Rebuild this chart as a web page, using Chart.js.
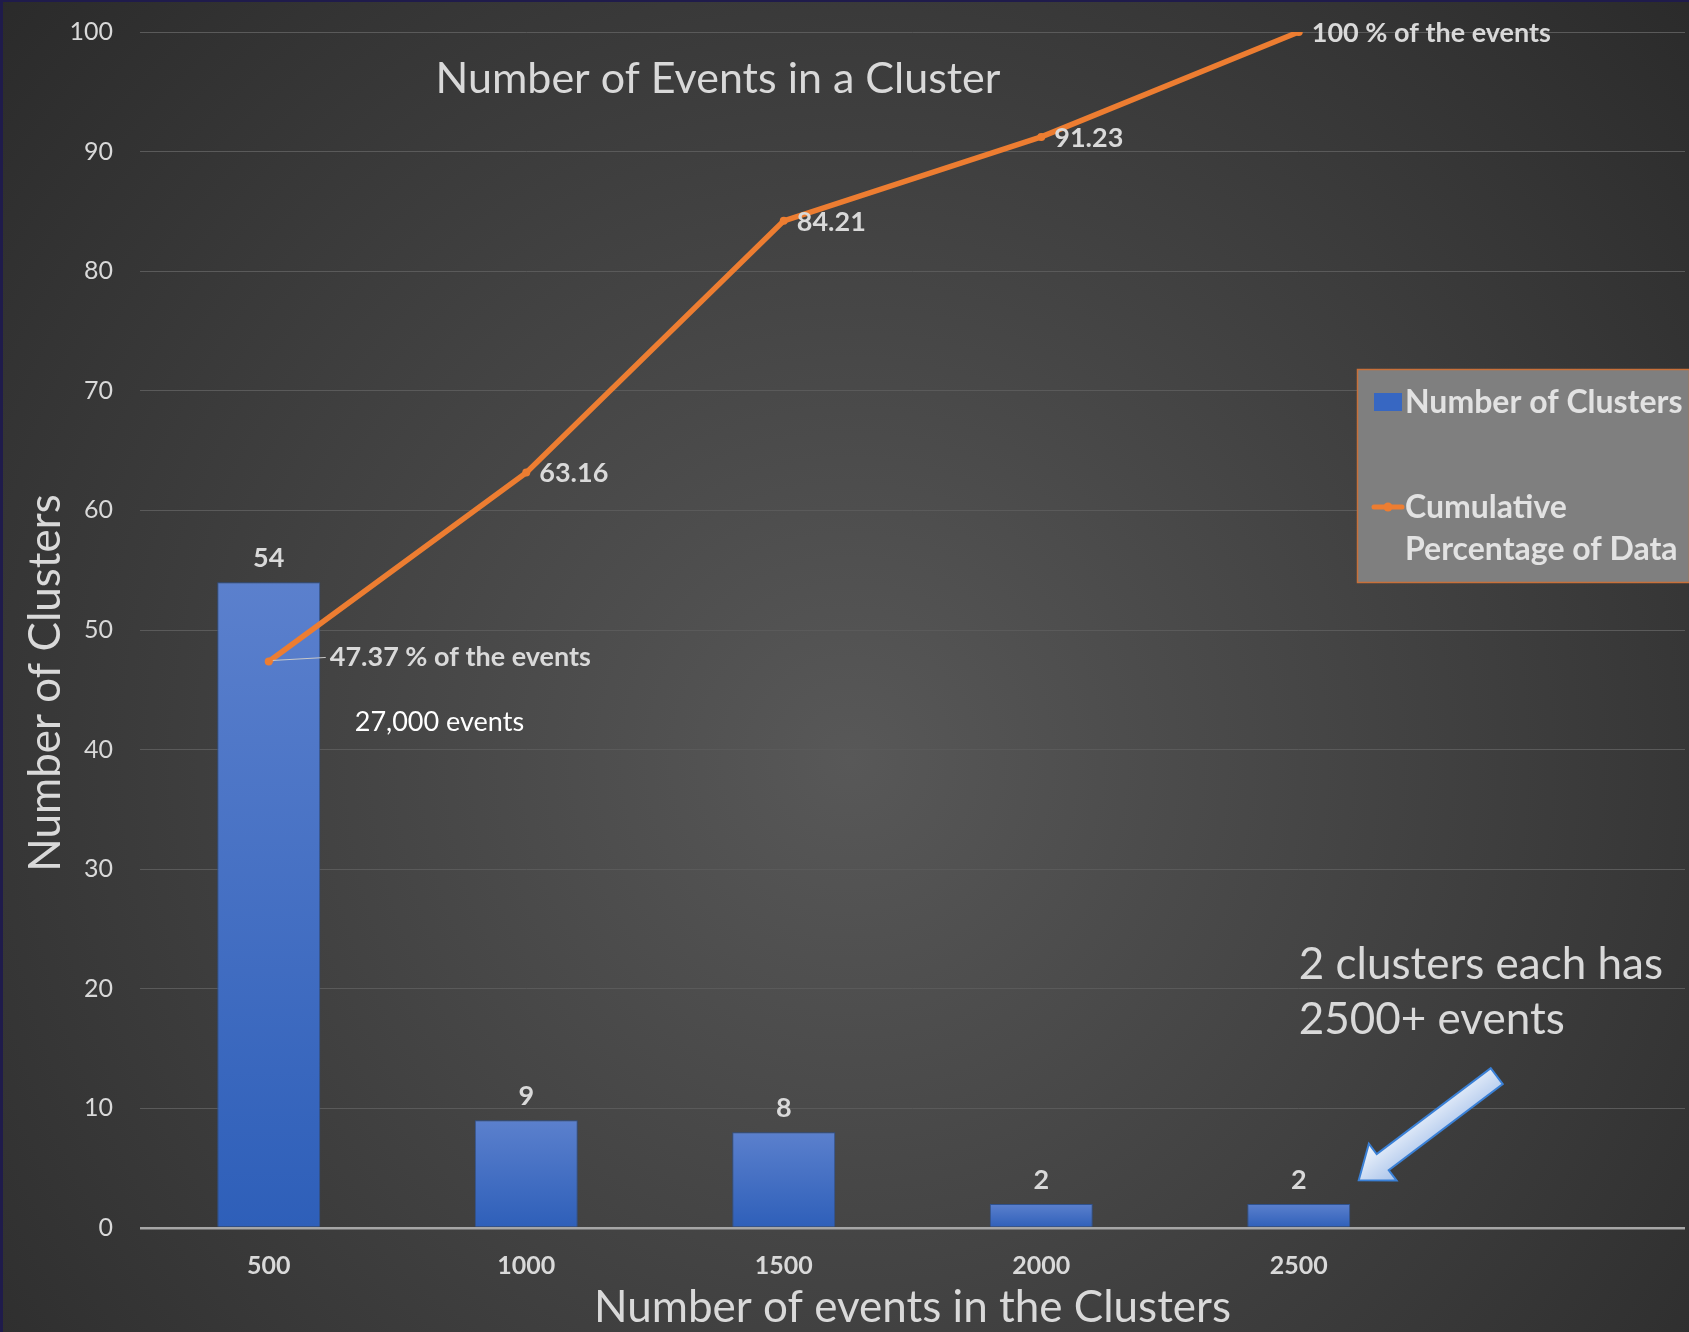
<!DOCTYPE html>
<html>
<head>
<meta charset="utf-8">
<script src="https://cdn.jsdelivr.net/npm/chart.js@4.4.0/dist/chart.umd.min.js"></script>
<style>
  html, body { margin: 0; padding: 0; background: #3a3a3a; }
  #wrap { width: 1689px; height: 1332px; }
</style>
</head>
<body>
<div id="wrap"><canvas id="myChart" width="1689" height="1332"></canvas></div>
<script>
// data
var categories = ['500', '1000', '1500', '2000', '2500', ''];
var clusterCounts = [54, 9, 8, 2, 2, null];
var cumulativePct = [47.37, 63.16, 84.21, 91.23, 100, null];
var pointLabels = ['47.37 % of the events', '63.16', '84.21', '91.23', '100 % of the events'];

var FONT = 'Lato, "Open Sans", sans-serif';
var TEXT = '#d9d9d9';

//Hintergrund
var backgroundPlugin = {
  id: 'bg',
  beforeDraw: function(chart) {
    var ctx = chart.ctx;
    var w = chart.width, h = chart.height;
    var g = ctx.createRadialGradient(850, 760, 0, 850, 760, 1150);
    g.addColorStop(0, '#585858');
    g.addColorStop(1, '#2a2a2a');
    ctx.save();
    ctx.fillStyle = g;
    ctx.fillRect(0, 0, w, h);
    ctx.fillStyle = '#1f1b4b';
    ctx.fillRect(0, 0, w, 2);
    ctx.fillRect(0, 0, 3, h);
    ctx.restore();
  }
};

function drawArrow(ctx, tipX, tipY, tailX, tailY, shaftW, headW, headL) {
  var ang = Math.atan2(tailY - tipY, tailX - tipX);
  var len = Math.hypot(tailX - tipX, tailY - tipY);
  ctx.save();
  ctx.translate(tipX, tipY);
  ctx.rotate(ang);
  ctx.beginPath();
  ctx.moveTo(0, 0);
  ctx.lineTo(headL, -headW / 2);
  ctx.lineTo(headL, -shaftW / 2);
  ctx.lineTo(len, -shaftW / 2);
  ctx.lineTo(len, shaftW / 2);
  ctx.lineTo(headL, shaftW / 2);
  ctx.lineTo(headL, headW / 2);
  ctx.closePath();
  var g = ctx.createLinearGradient(0, -headW / 2, 0, headW / 2);
  g.addColorStop(0, '#f2f6fc');
  g.addColorStop(1, '#a7c2ea');
  ctx.fillStyle = g;
  ctx.fill();
  ctx.lineWidth = 2;
  ctx.strokeStyle = '#3a80d6';
  ctx.stroke();
  ctx.restore();
}

//Beschriftungen, Legende, Pfeil
var annotationPlugin = {
  id: 'annotations',
  afterDatasetsDraw: function(chart) {
    var ctx = chart.ctx;
    var area = chart.chartArea;
    var xs = chart.scales.x, ys = chart.scales.y;
    ctx.save();

    // bar values
    ctx.font = 'bold 27px ' + FONT;
    ctx.fillStyle = TEXT;
    ctx.textAlign = 'center';
    ctx.textBaseline = 'middle';
    chart.getDatasetMeta(0).data.forEach(function(bar, i) {
      if (clusterCounts[i] == null) return;
      ctx.fillText(String(clusterCounts[i]), bar.x, bar.y - 24);
    });

    // line values
    ctx.textAlign = 'left';
    chart.getDatasetMeta(1).data.forEach(function(pt, i) {
      if (cumulativePct[i] == null) return;
      if (i === 0) {
        ctx.strokeStyle = '#c8c8c8';
        ctx.lineWidth = 1;
        ctx.beginPath();
        ctx.moveTo(pt.x + 4, pt.y - 1);
        ctx.lineTo(pt.x + 57, pt.y - 4);
        ctx.stroke();
        ctx.fillText(pointLabels[i], pt.x + 61, pt.y - 4);
      } else {
        ctx.fillText(pointLabels[i], pt.x + 13, pt.y + 1);
      }
    });

    // 27,000 events
    ctx.font = '27px ' + FONT;
    ctx.fillStyle = '#ffffff';
    ctx.fillText('27,000 events', xs.getPixelForValue(0) + 86, ys.getPixelForValue(42.3));

    // title
    ctx.font = '43px ' + FONT;
    ctx.fillStyle = TEXT;
    ctx.textAlign = 'center';
    ctx.fillText('Number of Events in a Cluster', area.left + 578, area.top + 47);

    // y axis title
    ctx.save();
    ctx.translate(46, 683);
    ctx.rotate(-Math.PI / 2);
    ctx.font = '44px ' + FONT;
    ctx.fillText('Number of Clusters', 0, 0);
    ctx.restore();

    // note + arrow
    var x2500 = xs.getPixelForValue(4);
    ctx.textAlign = 'left';
    ctx.font = '44px ' + FONT;
    ctx.fillText('2 clusters each has', x2500, ys.getPixelForValue(22));
    ctx.fillText('2500+ events', x2500, ys.getPixelForValue(17.4));
    var tipX = x2500 + 60, tipY = ys.getPixelForValue(4);
    drawArrow(ctx, tipX, tipY, tipX + 138, tipY - 104, 20, 46, 30);

    // legend
    var lx = area.right - 328, ly = 369, lw = 332, lh = 213;
    ctx.fillStyle = '#7f7f7f';
    ctx.fillRect(lx, ly, lw, lh);
    ctx.strokeStyle = '#c8703a';
    ctx.lineWidth = 1.5;
    ctx.strokeRect(lx + 0.5, ly + 0.5, lw, lh);
    ctx.fillStyle = '#3767c2';
    ctx.fillRect(lx + 17, ly + 24, 28, 18);
    ctx.strokeStyle = '#ed7d31';
    ctx.lineWidth = 5;
    ctx.lineCap = 'round';
    ctx.beginPath();
    ctx.moveTo(lx + 17, ly + 138);
    ctx.lineTo(lx + 45, ly + 138);
    ctx.stroke();
    ctx.fillStyle = '#ed7d31';
    ctx.beginPath();
    ctx.arc(lx + 31, ly + 138, 4.5, 0, Math.PI * 2);
    ctx.fill();
    ctx.font = 'bold 32px ' + FONT;
    ctx.fillStyle = '#e2e2e2';
    ctx.textBaseline = 'middle';
    ctx.fillText('Number of Clusters', lx + 48, ly + 34);
    ctx.fillText('Cumulative', lx + 48, ly + 139);
    ctx.fillText('Percentage of Data', lx + 48, ly + 181);

    ctx.restore();
  }
};

function barGradient(context) {
  var chart = context.chart;
  var area = chart.chartArea;
  if (!area) return '#4472c4';
  var v = clusterCounts[context.dataIndex];
  if (v == null) return '#4472c4';
  var ys = chart.scales.y;
  var top = ys.getPixelForValue(v), bottom = ys.getPixelForValue(0);
  if (!(bottom > top)) return '#4472c4';
  var g = chart.ctx.createLinearGradient(0, top, 0, bottom);
  g.addColorStop(0, '#5b80cd');
  g.addColorStop(1, '#2e5fb9');
  return g;
}

var ctx = document.getElementById('myChart').getContext('2d');
var myChart = new Chart(ctx, {
  type: 'bar',
  data: {
    labels: categories,
    datasets: [{
      type: 'bar',
      label: 'Number of Clusters',
      data: clusterCounts,
      backgroundColor: barGradient,
      borderColor: '#2f528f',
      borderWidth: 1,
      categoryPercentage: 0.8,
      barPercentage: 0.5,
      order: 2
    }, {
      type: 'line',
      label: 'Cumulative Percentage of Data',
      data: cumulativePct,
      borderColor: '#ed7d31',
      borderWidth: 5.5,
      backgroundColor: '#ed7d31',
      pointRadius: 4,
      pointBorderWidth: 0,
      pointBackgroundColor: '#ed7d31',
      tension: 0,
      order: 1
    }]
  },
  options: {
    responsive: false,
    animation: false,
    layout: {
      padding: {top: 32, left: 0, right: 0, bottom: 0}
    },
    plugins: {
      legend: { display: false },
      tooltip: { enabled: false }
    },
    scales: {
      x: {
        grid: { display: false, drawTicks: false },
        border: { display: false },
        ticks: {
          color: TEXT,
          padding: 23,
          font: { family: FONT, size: 25, weight: 'bold' }
        },
        title: {
          display: true,
          text: 'Number of events in the Clusters',
          color: TEXT,
          font: { family: FONT, size: 44, lineHeight: 1.1 },
          padding: {top: 0, bottom: 0}
        },
        afterFit: function(scale) { scale.height = 104; }
      },
      y: {
        min: 0,
        max: 100,
        ticks: {
          stepSize: 10,
          color: TEXT,
          padding: 27,
          font: { family: FONT, size: 25 }
        },
        grid: {
          drawTicks: false,
          color: function(c) { return c.tick && c.tick.value === 0 ? '#a6a6a6' : '#5a5a5a'; },
          lineWidth: function(c) { return c.tick && c.tick.value === 0 ? 2.5 : 1; }
        },
        border: { display: false },
        afterFit: function(scale) {
          scale.width = 140;
          scale.paddingTop = 0;
          scale.paddingBottom = 0;
        }
      }
    }
  },
  plugins: [backgroundPlugin, annotationPlugin]
});
</script>
</body>
</html>
